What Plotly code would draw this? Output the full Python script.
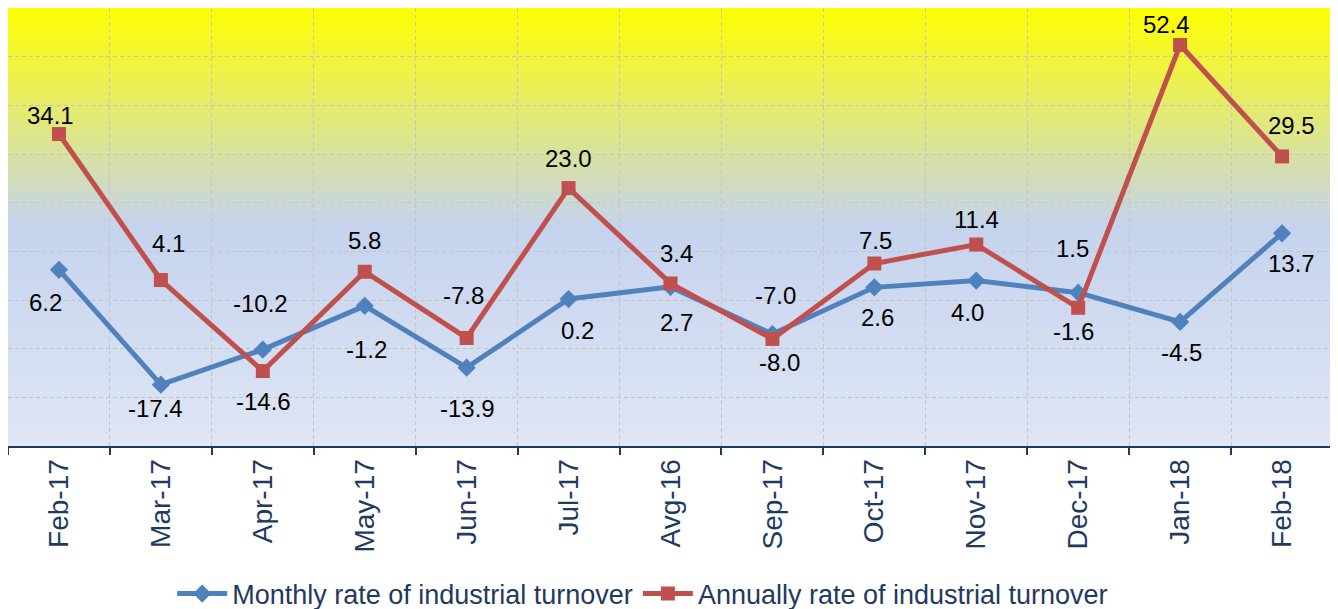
import plotly.graph_objects as go

categories = ["Feb-17", "Mar-17", "Apr-17", "May-17", "Jun-17", "Jul-17", "Avg-16",
              "Sep-17", "Oct-17", "Nov-17", "Dec-17", "Jan-18", "Feb-18"]
monthly = [6.2, -17.4, -10.2, -1.2, -13.9, 0.2, 2.7, -7.0, 2.6, 4.0, 1.5, -4.5, 13.7]
annually = [34.1, 4.1, -14.6, 5.8, -7.8, 23.0, 3.4, -8.0, 7.5, 11.4, -1.6, 52.4, 29.5]

# label pixel offsets (dx, dy up)
monthly_off = [(-13, -33), (-5, -24), (-2, 46), (2, -44), (1, -41), (9, -31), (6, -36),
               (3, 39), (3, -30), (-9, -32), (-6, 44), (1, -31), (9, -30)]
annual_off = [(-8, 19), (8, 37), (1, -30), (0, 31), (-3, 42), (0, 30), (6, 30),
              (7, -24), (1, 23), (0, 25), (-5, -24), (-14, 20), (9, 31)]

BLUE = "#4F81BD"
RED = "#C0504D"
NAVY = "#1F3A60"
FONT = "Liberation Sans, Arial"

fig = go.Figure()
fig.add_trace(go.Scatter(
    x=categories, y=monthly, mode="lines+markers",
    name="Monthly rate of industrial turnover",
    line=dict(color=BLUE, width=5),
    marker=dict(symbol="diamond", size=14, color=BLUE),
))
fig.add_trace(go.Scatter(
    x=categories, y=annually, mode="lines+markers",
    name="Annually rate of industrial turnover",
    line=dict(color=RED, width=5),
    marker=dict(symbol="square", size=14, color=RED),
))

annotations = []
for series, offs in ((monthly, monthly_off), (annually, annual_off)):
    for c, v, (dx, dy) in zip(categories, series, offs):
        annotations.append(dict(
            x=c, y=v, xref="x", yref="y", text=f"{v:.1f}", showarrow=False,
            xshift=dx, yshift=dy, font=dict(family=FONT, size=24, color="#000000"),
        ))

# vertical gradient background
def lerp(a, b, t):
    return tuple(round(a[i] + (b[i] - a[i]) * t) for i in range(3))

stops = [(0.0, (255, 255, 0)), (0.5, (197, 211, 238)), (1.0, (223, 230, 244))]
shapes = []
N = 110
for k in range(N):
    t0 = k / N
    t1 = (k + 1) / N
    tm = (t0 + t1) / 2
    for (sa, ca), (sb, cb) in zip(stops[:-1], stops[1:]):
        if sa <= tm <= sb:
            col = lerp(ca, cb, (tm - sa) / (sb - sa))
            break
    shapes.append(dict(
        type="rect", xref="paper", yref="paper", x0=0, x1=1,
        y0=1 - t1 - 0.001, y1=1 - t0 + 0.001,
        fillcolor="rgb(%d,%d,%d)" % col, line=dict(width=0), layer="below",
    ))

fig.update_layout(
    width=1330, height=601,
    margin=dict(l=0, r=5, t=0, b=163, autoexpand=False),
    paper_bgcolor="white",
    plot_bgcolor="white",
    font=dict(family=FONT, color=NAVY),
    showlegend=True,
    legend=dict(orientation="h", x=0.479, xanchor="center", y=-0.338, yanchor="middle",
                font=dict(size=27, color=NAVY), bgcolor="rgba(0,0,0,0)",
                itemwidth=50, tracegroupgap=0),
    annotations=annotations,
    shapes=shapes,
)
fig.update_xaxes(
    type="category", tickson="boundaries", range=[-0.5, 12.5],
    showgrid=True, gridcolor="#C4C4C4", griddash="4px,3px", gridwidth=1,
    showline=True, linecolor=NAVY, linewidth=2,
    ticks="outside", ticklen=7, tickcolor=NAVY, tickwidth=2,
    tickangle=-90, tickfont=dict(size=28, color=NAVY),
)
fig.update_yaxes(
    range=[-30, 60], dtick=10, showticklabels=False,
    showgrid=True, gridcolor="#C4C4C4", griddash="4px,3px", gridwidth=1,
    zeroline=False, showline=False, ticks="",
)

fig.write_html("out.html")
